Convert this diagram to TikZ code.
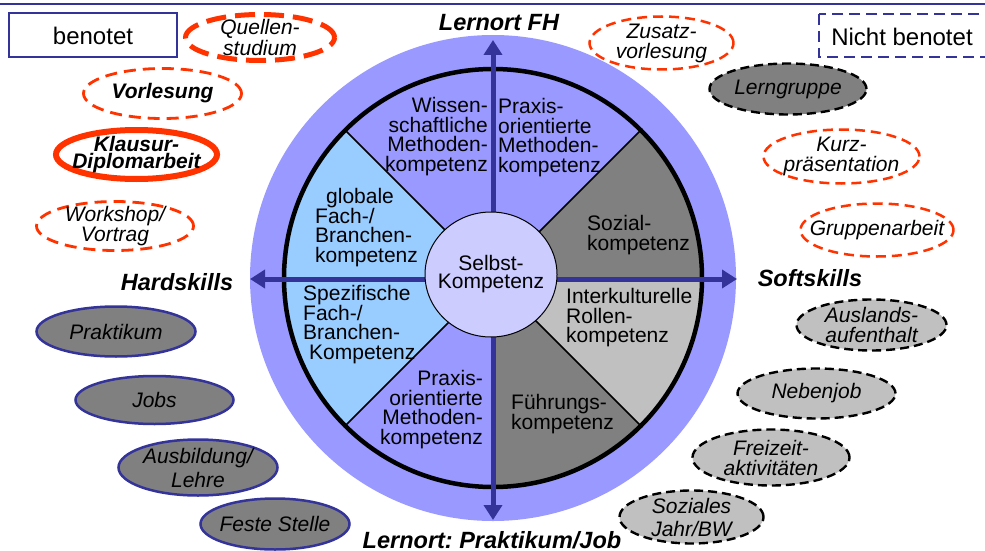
\documentclass[tikz,border=0pt]{standalone}
\usepackage{fontspec}
\setmainfont{Liberation Sans}
\usetikzlibrary{shapes.geometric,arrows.meta}
\frenchspacing

\definecolor{ringblue}{HTML}{9999FF}
\definecolor{skyblue}{HTML}{99CCFF}
\definecolor{midgray}{HTML}{808080}
\definecolor{palegray}{HTML}{C0C0C0}
\definecolor{coreblue}{HTML}{CCCCFF}
\definecolor{navy}{HTML}{333399}
\definecolor{signalred}{HTML}{FF3300}

\begin{document}
\begin{tikzpicture}[x=1pt,y=1pt,
  wheeltext/.style={inner sep=0pt, font=\fontsize{21}{19.7}\selectfont},
  headline/.style={inner sep=0pt, font=\bfseries\itshape\fontsize{23.5}{24}\selectfont},
  legendtext/.style={inner sep=0pt, font=\fontsize{24}{24}\selectfont},
  oval/.style={ellipse, inner sep=-14pt, align=center,
               font=\itshape\fontsize{21}{20}\selectfont},
  graded/.style={oval, draw=signalred, line width=2.8pt, dash pattern=on 12pt off 7pt},
  ungraded/.style={oval, fill=midgray, draw=black, line width=2.4pt, dash pattern=on 9pt off 5pt},
  worktrack/.style={oval, fill=midgray, draw=navy, line width=2.5pt},
  softtrack/.style={oval, fill=palegray, draw=black, line width=2.4pt, dash pattern=on 9pt off 5pt},
  axis/.style={draw=navy, line width=5pt, {Triangle[length=15pt,width=18pt]}-{Triangle[length=15pt,width=18pt]}}
]
\useasboundingbox (0,0) rectangle (985,-551);

% rule along the top edge
\coordinate (ruleL) at (0,-4);
\coordinate (ruleR) at (985,-4);
\draw[navy, line width=2pt] (ruleL) -- (ruleR);

% legend
\coordinate (gradedNW) at (9,-13);
\coordinate (gradedSE) at (177,-57);
\draw[navy, line width=2.5pt] (gradedNW) rectangle (gradedSE);
\node[legendtext] (graded) at (93,-36) {benotet};
\coordinate (ungradedNW) at (819,-14);
\coordinate (ungradedSE) at (992,-57);
\draw[navy, line width=2.5pt, dash pattern=on 11pt off 6pt] (ungradedNW) rectangle (ungradedSE);
\node[legendtext] (ungraded) at (902,-37) {Nicht benotet};

% competence wheel
\coordinate (C) at (493,-278);
\fill[ringblue] (C) circle[radius=243];
\def\wr{209}
\fill[ringblue] (C) -- ++(45:\wr) arc[start angle=45, end angle=135, radius=\wr] -- cycle;
\fill[skyblue] (C) -- ++(135:\wr) arc[start angle=135, end angle=225, radius=\wr] -- cycle;
\fill[ringblue] (C) -- ++(225:\wr) arc[start angle=225, end angle=270, radius=\wr] -- cycle;
\fill[midgray] (C) -- ++(270:\wr) arc[start angle=270, end angle=315, radius=\wr] -- cycle;
\fill[palegray] (C) -- ++(315:\wr) arc[start angle=315, end angle=360, radius=\wr] -- cycle;
\fill[midgray] (C) -- ++(0:\wr) arc[start angle=0, end angle=45, radius=\wr] -- cycle;
\foreach \a in {45,135,225,315}
  \draw[line width=1.6pt] (C) -- ++(\a:\wr);
\draw[line width=4.5pt] (C) circle[radius=\wr];

% axes
\coordinate (N) at (493,-40);
\coordinate (S) at (493,-520);
\coordinate (W) at (250,-279);
\coordinate (E) at (737,-279);
\draw[axis] (S) -- (N);
\draw[axis] (W) -- (E);

% core
\node[ellipse, fill=coreblue, draw=black, line width=1pt, inner sep=0pt,
      minimum width=132pt, minimum height=125pt] (core) at (491,-274.5) {};
\node[wheeltext, anchor=north, align=center, font=\fontsize{21}{18.3}\selectfont] (selbst) at (491,-255) {Selbst-\\Kompetenz};

% sector labels
\node[wheeltext, anchor=north east, align=right] (wiss) at (488,-97) {Wissen-\\schaftliche\\Methoden-\\kompetenz};
\node[wheeltext, anchor=north west, align=left] (praxtop) at (498,-98) {Praxis-\\orientierte\\Methoden-\\kompetenz};
\node[wheeltext, anchor=north west, align=left] (global) at (315,-188) {\hspace*{11pt}globale\\Fach-/\\Branchen-\\kompetenz};
\node[wheeltext, anchor=north west, align=left] (sozial) at (587,-215) {Sozial-\\kompetenz};
\node[wheeltext, anchor=north west, align=left] (spez) at (303,-285) {Spezifische\\Fach-/\\Branchen-\\\hspace*{6pt}Kompetenz};
\node[wheeltext, anchor=north west, align=left] (inter) at (566,-288) {Interkulturelle\\Rollen-\\kompetenz};
\node[wheeltext, anchor=north east, align=right] (praxbot) at (483,-370) {Praxis-\\orientierte\\Methoden-\\kompetenz};
\node[wheeltext, anchor=north west, align=left] (fuehr) at (511,-394) {Führungs-\\kompetenz};

% axis captions
\node[headline] (lernfh) at (499,-23) {Lernort FH};
\node[headline] (hard) at (177,-282) {Hardskills};
\node[headline] (soft) at (810,-278) {Softskills};
\node[headline, anchor=base] (lernjob) at (492,-548) {Lernort: Praktikum/Job};

% graded formats (university)
\node[graded, line width=5pt, dash pattern=on 20pt off 9pt, font=\itshape\fontsize{21}{15}\selectfont,
      minimum width=149pt, minimum height=46pt] (quellen) at (260,-37.5) {Quellen-\\studium};
\node[graded, font=\bfseries\itshape\fontsize{21}{20}\selectfont,
      minimum width=158pt, minimum height=50pt] (vorl) at (162.5,-93.5) {Vorlesung};
\node[oval, draw=signalred, line width=6pt, font=\bfseries\itshape\fontsize{21}{16.5}\selectfont,
      minimum width=161pt, minimum height=49pt] (klausur) at (136.5,-154.5) {Klausur-\\Diplomarbeit};
\node[graded, minimum width=157pt, minimum height=49pt] (workshop) at (115,-226) {Workshop/\\Vortrag};
\node[graded, line width=2.5pt, dash pattern=on 10pt off 6pt,
      minimum width=144pt, minimum height=53pt] (zusatz) at (661.5,-43) {Zusatz-\\vorlesung};
\node[graded, line width=2.5pt, dash pattern=on 10pt off 6pt,
      minimum width=156pt, minimum height=54pt] (kurz) at (841.5,-156.5) {Kurz-\\präsentation};
\node[graded, line width=2.5pt, dash pattern=on 10pt off 6pt,
      minimum width=153pt, minimum height=53pt] (gruppe) at (877,-230) {Gruppenarbeit};
\node[ungraded, minimum width=157pt, minimum height=51pt] (lerngr) at (788,-89) {Lerngruppe};

% hard-skill practice
\node[worktrack, minimum width=159pt, minimum height=50pt] (prakt) at (116,-331.5) {Praktikum};
\node[worktrack, minimum width=158pt, minimum height=48pt] (jobs) at (154.5,-400) {Jobs};
\node[worktrack, font=\itshape\fontsize{21}{24}\selectfont,
      minimum width=159pt, minimum height=56pt] (ausb) at (198,-467.5) {Ausbildung/\\Lehre};
\node[worktrack, minimum width=149pt, minimum height=51pt] (feste) at (275,-524) {Feste Stelle};

% soft-skill practice
\node[softtrack, minimum width=150pt, minimum height=51pt] (ausland) at (871.5,-325) {Auslands-\\aufenthalt};
\node[softtrack, minimum width=158pt, minimum height=50pt] (neben) at (816.5,-393.5) {Nebenjob};
\node[softtrack, minimum width=157pt, minimum height=56pt] (freizeit) at (771,-457.5) {Freizeit-\\aktivitäten};
\node[softtrack, font=\itshape\fontsize{21}{23}\selectfont,
      minimum width=144pt, minimum height=53pt] (sozjahr) at (691.5,-517) {Soziales\\Jahr/BW};
\end{tikzpicture}
\end{document}
